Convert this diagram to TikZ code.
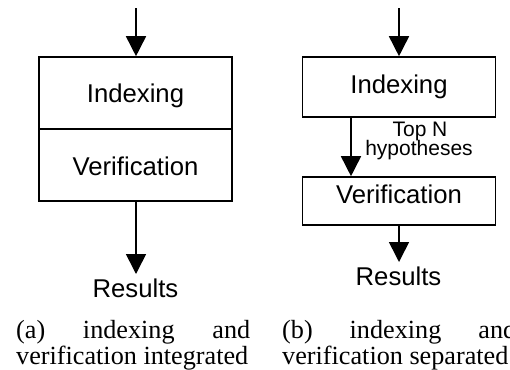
\documentclass[tikz,border=0pt]{standalone}
\usepackage{fontspec}
\setmainfont{Liberation Serif}
\newfontfamily\sansf{Liberation Sans}
\usetikzlibrary{arrows.meta}
\begin{document}
\begin{tikzpicture}[x=1bp,y=-1bp,
  box/.style={draw, line width=1.6bp, inner sep=0pt, minimum width=193bp},
  lbl/.style={font=\sansf\fontsize{25.7bp}{30bp}\selectfont, anchor=base, inner sep=0pt},
  small/.style={font=\sansf\fontsize{21bp}{24bp}\selectfont, anchor=base, inner sep=0pt},
  captext/.style={font=\fontsize{26.2bp}{26bp}\selectfont, anchor=base west, inner sep=0pt},
  arr/.style={line width=1.6bp, -{Triangle[width=20bp,length=20bp]}}]
\useasboundingbox (0,0) rectangle (510,369);
\clip (0,0) rectangle (510,369);
% panel (a)
\node[box, minimum height=72bp] (idxA) at (135.5,93) {};
\node[box, minimum height=72bp] (verA) at (135.5,165) {};
\node[lbl] (tIdxA) at (135.5,102) {Indexing};
\node[lbl] (tVerA) at (135.5,175) {Verification};
\coordinate (inA) at (136,8);
\coordinate (outA) at (136,274);
\draw[arr] (inA) -- (inA |- idxA.north);
\draw[arr] (outA |- verA.south) -- (outA);
\node[lbl] (resA) at (135.5,297) {Results};
\node[captext] (capA1) at (16,338) {\hbox to 234bp{(a)\hfill indexing\hfill and}};
\node[captext] (capA2) at (16,364) {verification integrated};
% panel (b)
\node[box, minimum height=60bp] (idxB) at (399,87) {};
\node[box, minimum height=48bp] (verB) at (399,201) {};
\node[lbl] (tIdxB) at (399,93) {Indexing};
\node[lbl] (tVerB) at (399,203) {Verification};
\coordinate (inB) at (399,8);
\coordinate (outB) at (399,262);
\coordinate (xm) at (351,0);
\draw[arr] (inB) -- (inB |- idxB.north);
\draw[arr] (idxB.south -| xm) -- (verB.north -| xm);
\draw[arr] (outB |- verB.south) -- (outB);
\node[small] (topN) at (420,136) {Top N};
\node[small] (hyp) at (419,155) {hypotheses};
\node[lbl] (resB) at (398.5,285) {Results};
\node[captext] (capB1) at (282,338) {\hbox to 234bp{(b)\hfill indexing\hfill and}};
\node[captext] (capB2) at (282,364) {verification separated};
\end{tikzpicture}
\end{document}
